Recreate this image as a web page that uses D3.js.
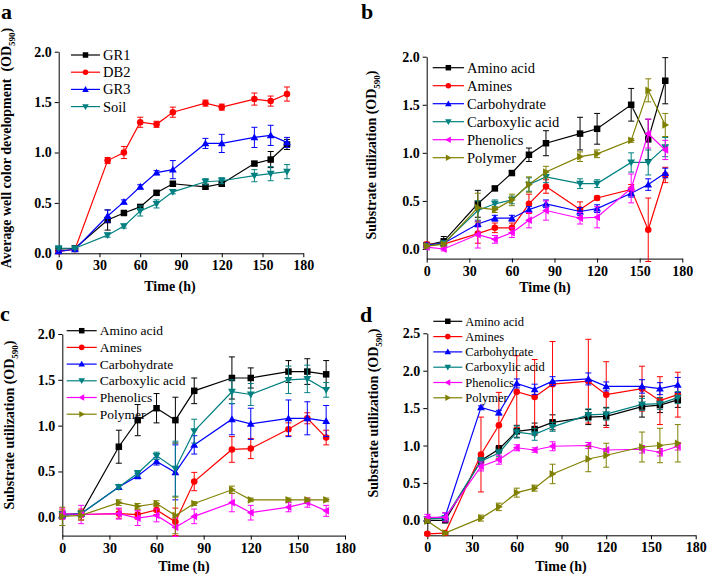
<!DOCTYPE html>
<html>
<head>
<meta charset="utf-8">
<script src="https://cdn.jsdelivr.net/npm/d3@7"></script>
<style>
  body { margin: 0; background: #fff; }
  svg text { font-family: "Liberation Serif", "Times New Roman", serif; }
</style>
</head>
<body>
<div id="chart"></div>
<script>
// sampling times (h)
const times = [0, 12, 36, 48, 60, 72, 84, 108, 120, 144, 156, 168];
const xTicks = [0, 30, 60, 90, 120, 150, 180];

// panel a: average well color development by sample
const seriesA = ['GR1', 'DB2', 'GR3', 'Soil'];
const gr1 = [0.04, 0.05, 0.33, 0.40, 0.46, 0.60, 0.69, 0.66, 0.69, 0.89, 0.93, 1.08];
const gr1Err = [0.01, 0.01, 0.10, 0.02, 0.02, 0.02, 0.02, 0.02, 0.02, 0.02, 0.08, 0.05];
const db2 = [0.02, 0.04, 0.92, 1.00, 1.30, 1.28, 1.40, 1.49, 1.45, 1.53, 1.51, 1.58];
const db2Err = [0.01, 0.01, 0.03, 0.06, 0.05, 0.03, 0.05, 0.03, 0.03, 0.06, 0.05, 0.07];
const gr3 = [0.02, 0.04, 0.37, 0.51, 0.66, 0.80, 0.83, 1.09, 1.09, 1.15, 1.17, 1.10];
const gr3Err = [0.01, 0.01, 0.06, 0.02, 0.02, 0.02, 0.09, 0.05, 0.09, 0.10, 0.10, 0.05];
const soil = [0.05, 0.05, 0.18, 0.27, 0.42, 0.49, 0.61, 0.71, 0.72, 0.77, 0.79, 0.81];
const soilErr = [0.01, 0.01, 0.02, 0.02, 0.05, 0.04, 0.02, 0.03, 0.03, 0.06, 0.07, 0.07];

// substrate groups used in b, c, d
const groups = ['Amino acid', 'Amines', 'Carbohydrate', 'Carboxylic acid', 'Phenolics', 'Polymer'];

// panel b
const bAmino = [0.04, 0.08, 0.47, 0.63, 0.79, 0.98, 1.10, 1.20, 1.25, 1.50, 1.14, 1.75];
const bAminoErr = [0.02, 0.05, 0.14, 0.02, 0.02, 0.07, 0.13, 0.17, 0.16, 0.17, 0.21, 0.24];
const bAmines = [0.05, 0.05, 0.16, 0.22, 0.22, 0.47, 0.65, 0.41, 0.53, 0.62, 0.20, 0.77];
const bAminesErr = [0.02, 0.02, 0.10, 0.05, 0.05, 0.10, 0.07, 0.08, 0.02, 0.05, 0.33, 0.08];
const bCarbo = [0.04, 0.06, 0.26, 0.32, 0.32, 0.41, 0.47, 0.39, 0.42, 0.58, 0.67, 0.79];
const bCarboErr = [0.02, 0.02, 0.03, 0.03, 0.03, 0.03, 0.04, 0.04, 0.04, 0.04, 0.06, 0.05];
const bCarbox = [0.03, 0.06, 0.40, 0.47, 0.51, 0.67, 0.75, 0.68, 0.68, 0.90, 0.90, 1.06];
const bCarboxErr = [0.02, 0.02, 0.10, 0.04, 0.04, 0.07, 0.06, 0.05, 0.04, 0.10, 0.13, 0.10];
const bPhen = [0.02, 0.00, 0.15, 0.10, 0.17, 0.30, 0.40, 0.32, 0.33, 0.63, 1.20, 1.03];
const bPhenErr = [0.02, 0.02, 0.14, 0.04, 0.05, 0.08, 0.10, 0.06, 0.11, 0.15, 0.15, 0.10];
const bPoly = [0.03, 0.05, 0.43, 0.41, 0.51, 0.67, 0.80, 0.96, 0.99, 1.13, 1.65, 1.29];
const bPolyErr = [0.02, 0.02, 0.15, 0.03, 0.06, 0.08, 0.06, 0.05, 0.04, 0.02, 0.12, 0.12];

// panel c
const cAmino = [0.03, 0.04, 0.77, 1.06, 1.19, 1.06, 1.38, 1.52, 1.52, 1.59, 1.59, 1.56];
const cAminoErr = [0.03, 0.03, 0.18, 0.17, 0.16, 0.25, 0.14, 0.23, 0.11, 0.12, 0.14, 0.15];
const cAmines = [0.03, 0.03, 0.04, 0.03, 0.08, -0.05, 0.39, 0.74, 0.75, 0.96, 1.08, 0.87];
const cAminesErr = [0.05, 0.06, 0.05, 0.05, 0.05, 0.15, 0.10, 0.14, 0.11, 0.07, 0.06, 0.08];
const cCarbo = [0.02, 0.04, 0.33, 0.45, 0.61, 0.49, 0.79, 1.07, 1.02, 1.08, 1.08, 1.05];
const cCarboErr = [0.03, 0.03, 0.02, 0.03, 0.04, 0.30, 0.10, 0.17, 0.17, 0.20, 0.18, 0.17];
const cCarbox = [0.03, 0.04, 0.33, 0.48, 0.67, 0.53, 0.94, 1.37, 1.34, 1.50, 1.51, 1.39];
const cCarboxErr = [0.03, 0.03, 0.02, 0.03, 0.04, 0.30, 0.13, 0.13, 0.12, 0.15, 0.15, 0.08];
const cPhen = [0.04, 0.03, 0.04, -0.01, 0.02, -0.11, 0.01, 0.16, 0.05, 0.11, 0.16, 0.07];
const cPhenErr = [0.06, 0.10, 0.06, 0.08, 0.07, 0.10, 0.08, 0.10, 0.08, 0.05, 0.05, 0.06];
const cPoly = [0.01, 0.02, 0.16, 0.12, 0.15, 0.02, 0.15, 0.30, 0.19, 0.19, 0.19, 0.19];
const cPolyErr = [0.10, 0.05, 0.03, 0.03, 0.03, 0.20, 0.02, 0.04, 0.02, 0.02, 0.02, 0.02];

// panel d
const dAmino = [0.00, 0.00, 0.80, 0.95, 1.19, 1.22, 1.31, 1.38, 1.39, 1.52, 1.54, 1.61];
const dAminoErr = [0.02, 0.02, 0.05, 0.05, 0.08, 0.08, 0.10, 0.10, 0.12, 0.14, 0.10, 0.10];
const dAmines = [-0.18, -0.17, 0.88, 1.27, 1.72, 1.65, 1.82, 1.86, 1.68, 1.76, 1.60, 1.68];
const dAminesErr = [0.02, 0.02, 0.50, 0.44, 0.48, 0.50, 0.57, 0.56, 0.44, 0.30, 0.32, 0.30];
const dCarbo = [0.02, 0.05, 1.51, 1.44, 1.83, 1.75, 1.86, 1.89, 1.79, 1.79, 1.76, 1.81];
const dCarboErr = [0.02, 0.05, 0.02, 0.03, 0.06, 0.07, 0.06, 0.08, 0.06, 0.09, 0.08, 0.10];
const dCarbox = [0.02, 0.03, 0.79, 0.90, 1.18, 1.15, 1.25, 1.41, 1.42, 1.55, 1.56, 1.64];
const dCarboxErr = [0.02, 0.03, 0.05, 0.05, 0.08, 0.08, 0.06, 0.08, 0.08, 0.08, 0.08, 0.08];
const dPhen = [0.04, 0.04, 0.72, 0.81, 0.97, 0.94, 0.99, 1.00, 0.94, 0.95, 0.91, 0.99];
const dPhenErr = [0.04, 0.06, 0.06, 0.06, 0.04, 0.03, 0.06, 0.04, 0.02, 0.05, 0.05, 0.05];
const dPoly = [-0.01, -0.17, 0.03, 0.18, 0.37, 0.43, 0.62, 0.82, 0.87, 0.98, 1.00, 1.03];
const dPolyErr = [0.02, 0.02, 0.04, 0.05, 0.06, 0.04, 0.13, 0.17, 0.16, 0.20, 0.23, 0.25];

const colors = ['#000000', '#ff0000', '#0000ff', '#008080', '#ff00ff', '#808000'];
const colorsA = ['#000000', '#ff0000', '#0000ff', '#008080'];

// marker shapes: square, circle, up, down, left, right triangles
function marker(kind, size) {
  const h = size;
  switch (kind) {
    case 0: return d3.symbol(d3.symbolSquare, size * size)();
    case 1: return d3.symbol(d3.symbolCircle, size * size * 0.8)();
    case 2: return `M0,${-h * 0.6}L${h * 0.6},${h * 0.45}L${-h * 0.6},${h * 0.45}Z`;
    case 3: return `M0,${h * 0.6}L${h * 0.6},${-h * 0.45}L${-h * 0.6},${-h * 0.45}Z`;
    case 4: return `M${-h * 0.6},0L${h * 0.45},${-h * 0.6}L${h * 0.45},${h * 0.6}Z`;
    default: return `M${h * 0.6},0L${-h * 0.45},${-h * 0.6}L${-h * 0.45},${h * 0.6}Z`;
  }
}

const svg = d3.select('#chart').append('svg')
  .attr('width', 707)
  .attr('height', 576);

function drawPanel(p) {
  const x = d3.scaleLinear().domain([0, 180]).range(p.xRange);
  const y = d3.scaleLinear().domain(p.yDomain).range(p.yRange);
  const g = svg.append('g');

  g.append('g')
    .attr('transform', `translate(0,${p.yRange[0]})`)
    .call(d3.axisBottom(x).tickValues(xTicks).tickSize(4).tickSizeOuter(0).tickPadding(3))
    .call(a => a.selectAll('text').attr('font-size', 14).attr('font-weight', 'bold')
      .attr('font-family', '"Liberation Serif", serif').attr('fill', '#000'));

  g.append('g')
    .attr('transform', `translate(${p.xRange[0]},0)`)
    .call(d3.axisLeft(y).tickValues(p.yTicks).tickFormat(d3.format('.1f')).tickSize(4).tickSizeOuter(0).tickPadding(3))
    .call(a => a.selectAll('text').attr('font-size', 14).attr('font-weight', 'bold')
      .attr('font-family', '"Liberation Serif", serif').attr('fill', '#000'));

  g.selectAll('.domain, .tick line').attr('stroke', '#000').attr('stroke-width', 1);

  const line = d3.line().x((d, i) => x(times[i])).y(d => y(d));

  p.series.forEach((s, k) => {
    const sg = g.append('g');
    sg.append('path')
      .datum(s.values)
      .attr('fill', 'none')
      .attr('stroke', s.color)
      .attr('stroke-width', 1.2)
      .attr('d', line);

    const eb = sg.selectAll('g.err').data(s.values).enter().append('g')
      .attr('stroke', s.color).attr('stroke-width', 1);
    eb.append('line')
      .attr('x1', (d, i) => x(times[i])).attr('x2', (d, i) => x(times[i]))
      .attr('y1', (d, i) => y(d - s.err[i])).attr('y2', (d, i) => y(d + s.err[i]));
    eb.append('line')
      .attr('x1', (d, i) => x(times[i]) - 3).attr('x2', (d, i) => x(times[i]) + 3)
      .attr('y1', (d, i) => y(d + s.err[i])).attr('y2', (d, i) => y(d + s.err[i]));
    eb.append('line')
      .attr('x1', (d, i) => x(times[i]) - 3).attr('x2', (d, i) => x(times[i]) + 3)
      .attr('y1', (d, i) => y(d - s.err[i])).attr('y2', (d, i) => y(d - s.err[i]));

    sg.selectAll('path.mk').data(s.values).enter().append('path')
      .attr('class', 'mk')
      .attr('transform', (d, i) => `translate(${x(times[i])},${y(d)})`)
      .attr('d', marker(k, 6.5))
      .attr('fill', s.color);
  });

  // legend
  const lg = g.append('g');
  p.series.forEach((s, k) => {
    const ly = p.legend.y + k * p.legend.step;
    lg.append('line')
      .attr('x1', p.legend.x0).attr('x2', p.legend.x1)
      .attr('y1', ly).attr('y2', ly)
      .attr('stroke', s.color).attr('stroke-width', 1.2);
    lg.append('path')
      .attr('transform', `translate(${(p.legend.x0 + p.legend.x1) / 2},${ly})`)
      .attr('d', marker(k, 5.5))
      .attr('fill', s.color);
    lg.append('text')
      .attr('x', p.legend.x1 + 3).attr('y', ly)
      .attr('dy', '0.34em')
      .attr('font-size', p.legend.font)
      .text(s.name);
  });

  // axis titles
  g.append('text')
    .attr('x', p.xTitle[0]).attr('y', p.xTitle[1])
    .attr('text-anchor', 'middle')
    .attr('font-size', 14).attr('font-weight', 'bold')
    .text('Time (h)');

  const yt = g.append('text')
    .attr('transform', `translate(${p.yTitle[0]},${p.yTitle[1]}) rotate(-90)`)
    .attr('text-anchor', 'middle')
    .attr('font-size', 14).attr('font-weight', 'bold')
    .style('white-space', 'pre');
  yt.append('tspan').text(p.yLabel + '(OD');
  yt.append('tspan').attr('font-size', 9).attr('dy', 4).text('590');
  yt.append('tspan').attr('dy', -4).text(')');

  g.append('text')
    .attr('x', p.letter[0]).attr('y', p.letter[1])
    .attr('font-size', 22).attr('font-weight', 'bold')
    .text(p.name);
}

function build(names, cols, vals, errs) {
  return names.map((n, i) => ({ name: n, color: cols[i], values: vals[i], err: errs[i] }));
}

drawPanel({
  name: 'a', letter: [1, 19],
  xRange: [58.7, 303.3], yDomain: [0, 2.0], yRange: [253.3, 51.7],
  yTicks: [0, 0.5, 1.0, 1.5, 2.0],
  series: build(seriesA, colorsA, [gr1, db2, gr3, soil], [gr1Err, db2Err, gr3Err, soilErr]),
  legend: { x0: 71, x1: 100, y: 55, step: 17.2, font: 14.5 },
  xTitle: [170, 291], yTitle: [11, 148],
  yLabel: 'Average well color development  '
});

drawPanel({
  name: 'b', letter: [361, 19],
  xRange: [426.7, 682.3], yDomain: [-0.1, 2.0], yRange: [258.6, 56.7],
  yTicks: [0, 0.5, 1.0, 1.5, 2.0],
  series: build(groups, colors, [bAmino, bAmines, bCarbo, bCarbox, bPhen, bPoly],
    [bAminoErr, bAminesErr, bCarboErr, bCarboxErr, bPhenErr, bPolyErr]),
  legend: { x0: 432.7, x1: 464, y: 67.7, step: 18, font: 14.5 },
  xTitle: [545, 292], yTitle: [376, 155],
  yLabel: 'Substrate utilization '
});

drawPanel({
  name: 'c', letter: [0, 321],
  xRange: [62.3, 345], yDomain: [-0.2, 2.0], yRange: [535.6, 334],
  yTicks: [0, 0.5, 1.0, 1.5, 2.0],
  series: build(groups, colors, [cAmino, cAmines, cCarbo, cCarbox, cPhen, cPoly],
    [cAminoErr, cAminesErr, cCarboErr, cCarboxErr, cPhenErr, cPolyErr]),
  legend: { x0: 66.7, x1: 96.7, y: 330.7, step: 16.7, font: 13.5 },
  xTitle: [184, 571], yTitle: [14, 425],
  yLabel: 'Substrate utilization '
});

drawPanel({
  name: 'd', letter: [360, 322],
  xRange: [427.3, 695.7], yDomain: [-0.2, 2.5], yRange: [535.3, 333.3],
  yTicks: [0, 0.5, 1.0, 1.5, 2.0, 2.5],
  series: build(groups, colors, [dAmino, dAmines, dCarbo, dCarbox, dPhen, dPoly],
    [dAminoErr, dAminesErr, dCarboErr, dCarboxErr, dPhenErr, dPolyErr]),
  legend: { x0: 433.3, x1: 462.3, y: 321.3, step: 15.3, font: 12.5 },
  xTitle: [561, 571], yTitle: [378, 413],
  yLabel: 'Substrate utilization '
});
</script>
</body>
</html>
